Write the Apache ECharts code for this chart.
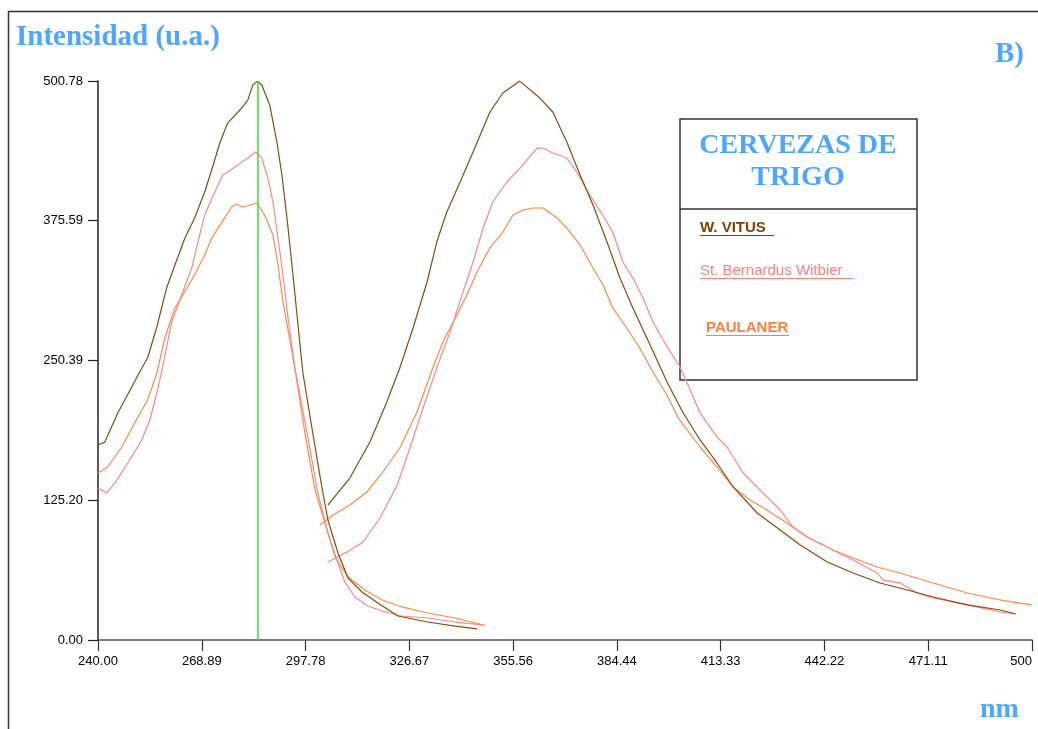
<!DOCTYPE html>
<html>
<head>
<meta charset="utf-8">
<script src="https://cdn.jsdelivr.net/npm/echarts@6/dist/echarts.min.js"></script>
<style>
html,body{margin:0;padding:0;background:#fff;}
#chart{width:1038px;height:729px;}
</style>
</head>
<body>
<div id="chart"></div>
<script>
// ---- data ----
const nmTicks = [240.00, 268.89, 297.78, 326.67, 355.56, 384.44, 413.33, 442.22, 471.11, 500];
const nmTickLabels = ['240.00','268.89','297.78','326.67','355.56','384.44','413.33','442.22','471.11','500'];
const intensityTicks = [0, 125.20, 250.39, 375.59, 500.78];
const intensityTickLabels = ['0.00','125.20','250.39','375.59','500.78'];
const markerNm = 284.6;

const seriesNames = ['W. VITUS', 'St. Bernardus Witbier', 'PAULANER'];

const vitusExcitation = [[240.0,174.7],[241.9,177.3],[245.5,203.3],[249.4,226.6],[251.6,240.1],[253.8,252.6],[256.3,279.5],[259.1,315.3],[261.4,336.0],[264.2,360.2],[266.9,378.0],[269.7,401.3],[271.9,423.7],[273.9,445.2],[276.1,463.1],[280.0,476.6],[281.7,483.7],[283.1,497.2],[284.4,500.7],[285.6,497.2],[287.8,479.3],[289.8,446.1],[291.2,416.6],[292.6,378.0],[294.0,335.9],[295.4,291.1],[297.0,240.1],[299.5,190.8],[302.3,137.1],[304.0,107.5],[306.8,77.9],[309.6,55.5],[313.5,43.0],[317.9,33.1],[323.5,21.5],[331.8,16.1],[339.4,12.5],[345.5,9.9]];

const vitusEmission = [[304.0,120.9],[310.1,145.1],[315.7,177.4],[320.4,213.2],[324.0,243.7],[327.7,279.5],[331.6,320.7],[334.3,356.5],[337.1,383.4],[340.8,410.3],[344.4,437.2],[349.1,473.0],[352.7,490.0],[357.4,500.7],[363.0,485.5],[366.6,473.0],[370.5,446.1],[374.2,416.6],[377.8,389.7],[381.7,356.5],[385.3,324.3],[388.9,297.4],[393.7,264.3],[398.4,231.1],[402.9,203.4],[407.6,179.2],[412.3,158.6],[416.8,137.1],[423.5,113.8],[429.9,98.5],[435.5,85.1],[443.0,69.9],[450.2,60.0],[457.7,51.1],[465.3,44.8],[472.5,38.5],[482.0,31.4],[491.2,26.9],[495.4,23.3]];

const bernardusExcitation = [[240.0,136.2],[242.4,131.7],[244.7,140.6],[248.3,158.6],[252.2,179.2],[254.4,197.1],[256.4,221.3],[258.0,244.6],[260.5,284.9],[263.3,309.1],[266.1,333.2],[267.8,356.5],[269.7,380.7],[272.5,401.3],[274.7,416.6],[276.1,419.2],[278.9,425.5],[281.7,431.8],[283.9,437.2],[285.6,431.8],[287.3,413.9],[288.7,392.4],[290.1,360.1],[291.5,327.0],[292.8,291.1],[294.8,243.7],[298.4,181.9],[301.2,131.7],[304.0,95.9],[306.5,71.7],[308.7,52.0],[311.5,38.5],[315.1,30.5],[319.9,25.1],[324.6,21.5],[331.8,19.7],[339.4,16.1],[347.7,13.4]];

const bernardusEmission = [[304.0,69.9],[309.3,78.8],[313.8,87.8],[318.5,109.3],[323.3,138.9],[326.8,172.0],[330.5,207.8],[334.3,243.7],[338.0,275.9],[341.6,311.7],[344.4,338.6],[347.2,369.1],[349.9,392.4],[353.8,410.3],[357.5,422.8],[362.2,440.7],[363.9,440.7],[366.6,436.3],[370.5,431.8],[373.3,419.2],[376.9,398.6],[380.5,380.7],[383.3,365.5],[386.1,338.6],[388.9,324.3],[391.7,306.4],[394.5,284.9],[397.3,268.7],[402.0,244.6],[404.0,230.2],[407.6,203.4],[412.3,181.9],[415.1,172.9],[419.6,149.6],[425.1,131.7],[429.9,116.5],[433.5,101.2],[437.4,92.3],[444.6,80.6],[450.2,71.7],[456.9,60.0],[458.6,53.7],[463.3,51.1],[468.0,42.1],[472.5,37.6],[482.0,31.4],[491.2,25.1],[495.4,23.3]];

const paulanerExcitation = [[240.0,149.6],[242.7,155.0],[246.6,172.9],[250.2,194.4],[253.8,215.0],[256.4,239.2],[258.6,270.5],[261.4,297.4],[263.6,309.1],[266.9,327.0],[269.7,344.9],[271.7,360.1],[274.5,374.4],[277.2,387.9],[278.6,390.6],[280.3,387.9],[282.3,389.7],[284.2,391.5],[286.4,380.7],[288.7,362.8],[290.1,335.9],[291.5,302.8],[292.8,279.5],[294.8,243.7],[297.6,185.4],[300.4,134.4],[303.2,104.8],[306.0,74.4],[309.6,56.4],[314.3,44.8],[319.1,35.8],[324.6,29.6],[331.8,24.2],[339.4,19.7],[347.2,13.4]];

const paulanerEmission = [[301.8,103.0],[305.4,112.0],[310.1,120.9],[314.9,132.6],[319.3,150.5],[324.0,172.0],[328.8,204.2],[333.2,243.7],[336.0,267.0],[339.9,291.1],[342.7,309.1],[345.5,329.7],[349.1,351.2],[352.7,365.5],[355.5,380.7],[358.3,385.2],[361.1,387.0],[363.9,387.0],[367.8,378.0],[370.5,369.1],[374.2,353.9],[377.8,333.2],[380.6,318.0],[383.3,297.4],[387.2,279.5],[390.8,261.6],[394.5,240.1],[398.4,219.5],[401.5,198.9],[407.6,172.9],[412.3,155.0],[416.8,137.1],[421.5,125.4],[426.2,116.5],[431.8,104.8],[437.4,92.3],[444.6,80.6],[450.2,73.5],[456.9,65.4],[463.3,60.0],[472.5,51.1],[482.0,42.1],[491.2,35.8],[500.0,31.4]];

// ---- styling ----
const colors = ['#804000', '#ff8080', '#ff8040'];
const lineColors = ['#8a4a10', '#ff8888', '#ff8a4a'];
const blue = '#4da6ff';

function labelFor(ticks, labels, v) {
  let best = 0, bd = Infinity;
  ticks.forEach((t, i) => { const d = Math.abs(t - v); if (d < bd) { bd = d; best = i; } });
  return labels[best];
}

function lineSeries(name, data, color, extra) {
  return Object.assign({
    name: name, type: 'line', data: data, showSymbol: false, symbol: 'none',
    lineStyle: { color: color, width: 1.2 }, itemStyle: { color: color },
    silent: true, clip: true
  }, extra || {});
}

const chart = echarts.init(document.getElementById('chart'), null, { renderer: 'canvas' });

const option = {
  animation: false,
  backgroundColor: '#ffffff',
  grid: { left: 98, right: 6, top: 81, bottom: 89, containLabel: false },
  xAxis: {
    type: 'value', min: 240, max: 500,
    axisLine: { show: true, onZero: false, lineStyle: { color: '#555', width: 1.5 } },
    axisTick: { show: true, length: 11, customValues: nmTicks, lineStyle: { color: '#333', width: 1.2 } },
    axisLabel: {
      show: true, customValues: nmTicks, margin: 15, alignMaxLabel: 'right',
      color: '#000', fontFamily: 'Liberation Sans', fontSize: 13,
      formatter: v => labelFor(nmTicks, nmTickLabels, v)
    },
    splitLine: { show: false }
  },
  yAxis: {
    type: 'value', min: 0, max: 500.78,
    axisLine: { show: true, onZero: false, lineStyle: { color: '#222', width: 1.5 } },
    axisTick: { show: true, length: 10, customValues: intensityTicks, lineStyle: { color: '#222', width: 1.2 } },
    axisLabel: {
      show: true, customValues: intensityTicks, margin: 15,
      color: '#000', fontFamily: 'Liberation Sans', fontSize: 13,
      formatter: v => labelFor(intensityTicks, intensityTickLabels, v)
    },
    splitLine: { show: false }
  },
  series: [
    lineSeries(seriesNames[2] + ' exc', paulanerExcitation, lineColors[2]),
    lineSeries(seriesNames[2] + ' em', paulanerEmission, lineColors[2]),
    lineSeries(seriesNames[1] + ' exc', bernardusExcitation, lineColors[1]),
    lineSeries(seriesNames[1] + ' em', bernardusEmission, lineColors[1]),
    lineSeries(seriesNames[0] + ' exc', vitusExcitation, lineColors[0], {
      markLine: {
        silent: true, symbol: ['none', 'none'], label: { show: false },
        lineStyle: { color: '#33e033', width: 1.5, type: 'solid' },
        data: [{ xAxis: markerNm }]
      }
    }),
    lineSeries(seriesNames[0] + ' em', vitusEmission, lineColors[0])
  ],
  graphic: [
    { type: 'rect', shape: { x: 8.5, y: 11.5, width: 1200, height: 900 }, style: { fill: null, stroke: '#333', lineWidth: 1.5 }, silent: true },
    { type: 'text', x: 16, y: 38, style: { text: 'Intensidad (u.a.)', font: 'bold 29px "Liberation Serif"', fill: blue, align: 'left', verticalAlign: 'middle' } },
    { type: 'text', x: 995, y: 55, style: { text: 'B)', font: 'bold 29px "Liberation Serif"', fill: blue, align: 'left', verticalAlign: 'middle' } },
    { type: 'text', x: 980, y: 710, style: { text: 'nm', font: 'bold 28px "Liberation Serif"', fill: blue, align: 'left', verticalAlign: 'middle' } },
    { type: 'rect', shape: { x: 680, y: 119, width: 237, height: 261 }, style: { fill: null, stroke: '#333', lineWidth: 1.5 }, silent: true },
    { type: 'line', shape: { x1: 680, y1: 209, x2: 917, y2: 209 }, style: { stroke: '#333', lineWidth: 1.5 }, silent: true },
    { type: 'text', x: 798, y: 145.5, style: { text: 'CERVEZAS DE', font: 'bold 28px "Liberation Serif"', fill: blue, align: 'center', verticalAlign: 'middle' } },
    { type: 'text', x: 798, y: 177.5, style: { text: 'TRIGO', font: 'bold 28px "Liberation Serif"', fill: blue, align: 'center', verticalAlign: 'middle' } },
    { type: 'text', x: 700, y: 227.5, style: { text: seriesNames[0], font: 'bold 15px "Liberation Sans"', fill: colors[0], align: 'left', verticalAlign: 'middle' } },
    { type: 'line', shape: { x1: 700, y1: 235.5, x2: 774, y2: 235.5 }, style: { stroke: colors[0], lineWidth: 1.2 } },
    { type: 'text', x: 700, y: 270.5, style: { text: seriesNames[1], font: '15px "Liberation Sans"', fill: colors[1], align: 'left', verticalAlign: 'middle' } },
    { type: 'line', shape: { x1: 700, y1: 278.5, x2: 853, y2: 278.5 }, style: { stroke: colors[1], lineWidth: 1.2 } },
    { type: 'text', x: 706, y: 327.5, style: { text: seriesNames[2], font: 'bold 15px "Liberation Sans"', fill: colors[2], align: 'left', verticalAlign: 'middle' } },
    { type: 'line', shape: { x1: 706, y1: 335.5, x2: 789, y2: 335.5 }, style: { stroke: colors[2], lineWidth: 1.2 } }
  ]
};
chart.setOption(option);
</script>
</body>
</html>
